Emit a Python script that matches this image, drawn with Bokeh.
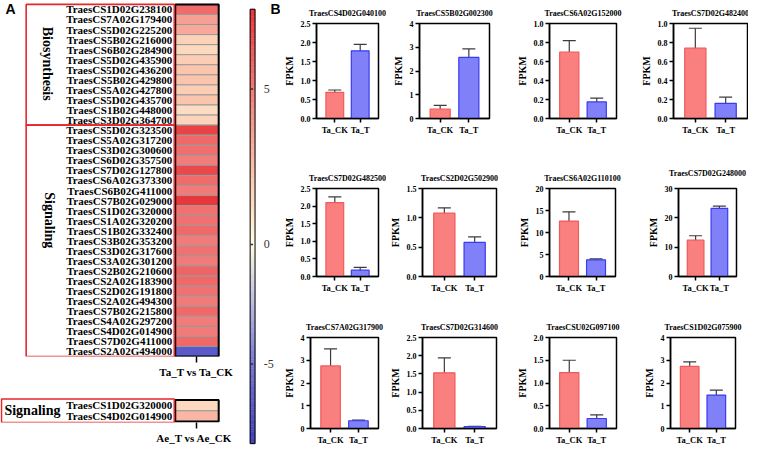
import math
from bokeh.plotting import figure
from bokeh.layouts import row, column
from bokeh.models import (Range1d, FactorRange, ColumnDataSource, LinearColorMapper,
                          FixedTicker, Whisker, TeeHead, NumeralTickFormatter)
from bokeh.transform import transform, factor_cmap
from bokeh.core.properties import value
from bokeh.embed import file_html
from bokeh.resources import INLINE

# ---------------- data ----------------
biosynthesis_genes = ["TraesCS1D02G238100", "TraesCS7A02G179400", "TraesCS5D02G225200",
                      "TraesCS5B02G216000", "TraesCS6B02G284900", "TraesCS5D02G435900",
                      "TraesCS5D02G436200", "TraesCS5B02G429800", "TraesCS5A02G427800",
                      "TraesCS5D02G435700", "TraesCS1B02G448000", "TraesCS3D02G364700"]
biosynthesis_log2fc = [5.5, 3.6, 3.3, 1.8, 1.5, 2.0, 2.3, 2.3, 2.0, 2.3, 1.3, 1.7]
signaling_genes = ["TraesCS5D02G323500", "TraesCS5A02G317200", "TraesCS3D02G300600",
                   "TraesCS6D02G357500", "TraesCS7D02G127800", "TraesCS6A02G373300",
                   "TraesCS6B02G411000", "TraesCS7B02G029000", "TraesCS1D02G320000",
                   "TraesCS1A02G320200", "TraesCS1B02G332400", "TraesCS3B02G353200",
                   "TraesCS3D02G317600", "TraesCS3A02G301200", "TraesCS2B02G210600",
                   "TraesCS2A02G183900", "TraesCS2D02G191800", "TraesCS2A02G494300",
                   "TraesCS7B02G215800", "TraesCS4A02G297200", "TraesCS4D02G014900",
                   "TraesCS7D02G411000", "TraesCS2A02G494000"]
signaling_log2fc = [7.0, 5.6, 5.4, 4.9, 6.8, 5.5, 5.0, 7.4, 5.3, 5.3, 5.6, 5.0, 5.3, 5.0,
                    5.8, 5.6, 5.3, 5.0, 5.6, 4.9, 5.0, 5.6, -6.6]
ta_comparison = "Ta_T vs Ta_CK"
ae_genes = ["TraesCS1D02G320000", "TraesCS4D02G014900"]
ae_log2fc = [1.5, 2.8]
ae_comparison = "Ae_T vs Ae_CK"
colorbar_ticks = [5, 0, -5]
colorbar_low, colorbar_high = -8.33, 7.56

bar_genes = ["TraesCS4D02G040100", "TraesCS5B02G002300", "TraesCS6A02G152000", "TraesCS7D02G482400",
             "TraesCS7D02G482500", "TraesCS2D02G502900", "TraesCS6A02G110100", "TraesCS7D02G248000",
             "TraesCS7A02G317900", "TraesCS7D02G314600", "TraesCSU02G097100", "TraesCS1D02G075900"]
groups = ["Ta_CK", "Ta_T"]
ck_mean = [0.69, 0.40, 0.70, 0.74, 2.10, 1.08, 12.6, 12.4, 2.75, 1.53, 1.23, 2.73]
ck_err = [0.06, 0.15, 0.12, 0.21, 0.16, 0.09, 2.1, 1.5, 0.75, 0.41, 0.27, 0.20]
t_mean = [1.78, 2.57, 0.175, 0.16, 0.18, 0.58, 3.8, 23.2, 0.34, 0.05, 0.22, 1.47]
t_err = [0.17, 0.36, 0.04, 0.065, 0.08, 0.095, 0.2, 0.8, 0.03, 0.01, 0.08, 0.22]
y_max = [2.5, 4, 1.0, 1.0, 2.5, 1.5, 20, 30, 4, 2.5, 2.0, 4]
y_step = [0.5, 1, 0.2, 0.2, 0.5, 0.5, 5, 10, 1, 0.5, 0.5, 1]

# ---------------- layout helpers (reference px -> page px) ----------------
SX = 748 / 758
SY = 447 / 460


def PX(r):
    return round(8 + (r - 4) * SX)


def PY(r):
    return round(8 + (r - 1) * SY)


SERIF_NAME = "Liberation Serif"
SERIF = value(SERIF_NAME)
SANS = value("Liberation Sans")

# ---------------- colour map ----------------
cm_vals = [colorbar_low, -5, -2, 0, 2, 5, colorbar_high]
cm_rgb = [(62, 62, 190), (118, 118, 214), (200, 200, 228), (255, 252, 225),
          (251, 205, 180), (242, 122, 120), (232, 52, 56)]


def interp_color(v):
    v = max(cm_vals[0], min(cm_vals[-1], v))
    for k in range(len(cm_vals) - 1):
        if cm_vals[k] <= v <= cm_vals[k + 1]:
            t = (v - cm_vals[k]) / (cm_vals[k + 1] - cm_vals[k])
            c = [round(a + (b - a) * t) for a, b in zip(cm_rgb[k], cm_rgb[k + 1])]
            return "#%02x%02x%02x" % tuple(c)
    return "#ffffff"


palette = [interp_color(colorbar_low + (colorbar_high - colorbar_low) * i / 255) for i in range(256)]
mapper = LinearColorMapper(palette=palette, low=colorbar_low, high=colorbar_high)

RED_BOX = "#e8262b"


def style_hm_axis(p, tick_x, label):
    ax = p.xaxis[0]
    ax.ticker = FixedTicker(ticks=[tick_x])
    ax.major_label_overrides = {tick_x: label}
    ax.axis_line_color = None
    ax.major_tick_line_color = "black"
    ax.major_tick_line_width = 1.5
    ax.major_tick_in = 0
    ax.major_tick_out = 6
    ax.minor_tick_line_color = None
    ax.major_label_standoff = 3
    ax.major_label_text_font = SERIF_NAME
    ax.major_label_text_font_style = "bold"
    ax.major_label_text_font_size = "11px"
    ax.major_label_text_color = "black"
    p.xgrid.visible = False
    p.ygrid.visible = False
    p.outline_line_color = None


CELL_L, CELL_R = 181, 225
CELL_X = (CELL_L + CELL_R) // 2
hm_w = PX(240) - PX(4)

# ---------------- heatmap 1 ----------------
hm1_h = PY(392) - PY(1)
hm1_frame_h = PY(367) - PY(1)
p1 = figure(width=hm_w, height=hm1_h, x_range=Range1d(4, 240), y_range=Range1d(367, 1),
            output_backend="svg", toolbar_location=None, y_axis_location=None,
            min_border=0, min_border_bottom=hm1_h - hm1_frame_h)
genes1 = biosynthesis_genes + signaling_genes
vals1 = biosynthesis_log2fc + signaling_log2fc
top1, bot1 = 5, 367
rh1 = (bot1 - top1) / len(genes1)
src1 = ColumnDataSource(dict(gene=genes1, v=vals1,
                             y=[top1 + (i + 0.5) * rh1 for i in range(len(genes1))]))
p1.rect(x=(CELL_L + CELL_R) / 2, y="y", width=CELL_R - CELL_L, height=rh1, source=src1,
        fill_color=transform("v", mapper), line_color="#9a9a9a", line_width=1)
p1.rect(x=(CELL_L + CELL_R) / 2, y=(top1 + bot1) / 2, width=CELL_R - CELL_L, height=bot1 - top1,
        fill_color=None, line_color="black", line_width=2)
p1.text(x=178, y="y", text="gene", source=src1, text_align="right", text_baseline="middle",
        text_font=SERIF, text_font_style="bold", text_font_size="11px", text_color="black")
nb = len(biosynthesis_genes)
yb = top1 + nb * rh1
p1.quad(left=[30, 30], right=[180, 180], top=[top1, yb], bottom=[yb, bot1],
        fill_color=None, line_color=RED_BOX, line_width=1.6)
p1.text(x=[52, 54], y=[66, 227], text=["Biosynthesis", "Signaling"], angle=-math.pi / 2,
        text_align="center", text_baseline="middle", text_font=SERIF,
        text_font_style="bold", text_font_size="14px", text_color="black")
p1.text(x=[9], y=[1.5], text=["A"], text_align="left", text_baseline="top",
        text_font=SANS, text_font_style="bold", text_font_size="14px", text_color="black")
style_hm_axis(p1, CELL_X, ta_comparison)

# ---------------- heatmap 2 ----------------
hm2_h = PY(461) - PY(392)
hm2_frame_h = PY(435) - PY(392)
p2 = figure(width=hm_w, height=hm2_h, x_range=Range1d(4, 240), y_range=Range1d(435, 392),
            output_backend="svg", toolbar_location=None, y_axis_location=None,
            min_border=0, min_border_bottom=hm2_h - hm2_frame_h)
top2, bot2 = 412, 434
rh2 = (bot2 - top2) / len(ae_genes)
src2 = ColumnDataSource(dict(gene=ae_genes, v=ae_log2fc,
                             y=[top2 + (i + 0.5) * rh2 for i in range(len(ae_genes))]))
p2.rect(x=(CELL_L + CELL_R) / 2, y="y", width=CELL_R - CELL_L, height=rh2, source=src2,
        fill_color=transform("v", mapper), line_color="#9a9a9a", line_width=1)
p2.rect(x=(CELL_L + CELL_R) / 2, y=(top2 + bot2) / 2, width=CELL_R - CELL_L, height=bot2 - top2,
        fill_color=None, line_color="black", line_width=2)
p2.text(x=178, y="y", text="gene", source=src2, text_align="right", text_baseline="middle",
        text_font=SERIF, text_font_style="bold", text_font_size="11px", text_color="black")
p2.quad(left=[5], right=[180], top=[411], bottom=[435], fill_color=None,
        line_color=RED_BOX, line_width=1.6)
p2.text(x=[8], y=[423], text=["Signaling"], text_align="left", text_baseline="middle",
        text_font=SERIF, text_font_style="bold", text_font_size="14px", text_color="black")
style_hm_axis(p2, CELL_X, ae_comparison)

# ---------------- colour bar ----------------
cb_w = PX(288) - PX(240)
cb = figure(width=cb_w, height=447, x_range=Range1d(240, 288), y_range=Range1d(461, 1),
            output_backend="svg", toolbar_location=None, x_axis_location=None,
            y_axis_location=None, min_border=0)
cb.xgrid.visible = False
cb.ygrid.visible = False
cb.outline_line_color = None
CB_TOP, CB_BOT, CB_ZERO = 10, 457, 252
px_pos = (CB_ZERO - CB_TOP) / colorbar_high
px_neg = (CB_BOT - CB_ZERO) / (-colorbar_low)


def val_to_y(v):
    return CB_ZERO - v * (px_pos if v >= 0 else px_neg)


def y_to_val(y):
    return (CB_ZERO - y) / (px_pos if y <= CB_ZERO else px_neg)


NS = 180
edges = [CB_TOP + (CB_BOT - CB_TOP) * k / NS for k in range(NS + 1)]
cb_src = ColumnDataSource(dict(top=edges[:-1], bottom=edges[1:],
                               v=[y_to_val((edges[k] + edges[k + 1]) / 2) for k in range(NS)]))
cb.quad(left=257, right=262, top="top", bottom="bottom", source=cb_src,
        fill_color=transform("v", mapper), line_color=transform("v", mapper), line_width=0.5)
cb.quad(left=[257], right=[262], top=[CB_TOP], bottom=[CB_BOT], fill_color=None,
        line_color="black", line_width=1)
tick_y = [val_to_y(v) for v in colorbar_ticks]
cb.segment(x0=257, x1=260, y0=tick_y, y1=tick_y, line_color="#333333", line_width=1.5)
cb.text(x=271, y=tick_y, text=[str(v) for v in colorbar_ticks], text_align="left",
        text_baseline="middle", text_font=SERIF, text_font_size="12px", text_color="#333333")
cb.text(x=[288], y=[2], text=["B"], text_align="right", text_baseline="top",
        text_font=SANS, text_font_style="bold", text_font_size="14px", text_color="black")

# ---------------- bar charts ----------------
col_bounds = [288, 395, 517, 642, 762]
row_bounds = [1, 150, 318, 461]
frames = [(320, 387, 23, 122), (429, 500, 23, 122), (560, 628, 23, 122), (686, 761, 23, 122),
          (320, 387, 185, 285), (429, 507, 185, 285), (560, 627, 185, 285), (691, 750, 194, 293),
          (316, 387, 348, 447), (429, 507, 348, 447), (560, 628, 348, 447), (683, 749, 348, 447)]
title_centers = [5, 167, 331]
BAR_FILL = ["#fa7f7f", "#8080f8"]
BAR_LINE = ["#f05a5a", "#3a3af0"]

bar_rows = []
for r in range(3):
    figs = []
    for c in range(4):
        i = r * 4 + c
        L, R, T, B = frames[i]
        bx0, bx1 = col_bounds[c], col_bounds[c + 1]
        by0, by1 = row_bounds[r], row_bounds[r + 1]
        p = figure(width=PX(bx1) - PX(bx0), height=PY(by1) - PY(by0),
                   x_range=FactorRange(factors=groups, range_padding=0.22),
                   y_range=Range1d(0, y_max[i]), output_backend="svg", toolbar_location=None,
                   min_border_left=PX(L) - PX(bx0), min_border_right=PX(bx1) - PX(R),
                   min_border_top=PY(T) - PY(by0), min_border_bottom=PY(by1) - PY(B))
        src = ColumnDataSource(dict(g=groups, m=[ck_mean[i], t_mean[i]],
                                    lo=[ck_mean[i] - ck_err[i], t_mean[i] - t_err[i]],
                                    hi=[ck_mean[i] + ck_err[i], t_mean[i] + t_err[i]]))
        p.vbar(x="g", top="m", bottom=0, width=0.7, source=src,
               fill_color=factor_cmap("g", palette=BAR_FILL, factors=groups),
               line_color=factor_cmap("g", palette=BAR_LINE, factors=groups), line_width=1.2)
        wcol = "#3c3c3c"
        p.add_layout(Whisker(base="g", lower="lo", upper="hi", source=src, line_color=wcol,
                             line_width=1.2,
                             upper_head=TeeHead(size=13, line_color=wcol, line_width=1.2),
                             lower_head=TeeHead(size=13, line_color=wcol, line_width=1.2)))
        n = round(y_max[i] / y_step[i])
        p.yaxis.ticker = FixedTicker(ticks=[round(k * y_step[i], 3) for k in range(n + 1)])
        p.yaxis.formatter = NumeralTickFormatter(format="0.0" if y_step[i] < 1 else "0")
        p.xgrid.visible = False
        p.ygrid.visible = False
        p.outline_line_color = "black"
        p.outline_line_width = 1.5
        for ax in p.axis:
            ax.axis_line_color = "black"
            ax.axis_line_width = 1.5
            ax.major_tick_line_color = "black"
            ax.major_tick_line_width = 1.5
            ax.major_tick_in = 0
            ax.major_tick_out = 4
            ax.minor_tick_line_color = None
            ax.major_label_standoff = 2
            ax.major_label_text_font = SERIF_NAME
            ax.major_label_text_font_style = "bold"
            ax.major_label_text_color = "black"
        p.yaxis.major_label_text_font_size = "8px"
        p.xaxis.major_label_text_font_size = "8.5px"
        p.yaxis.axis_label = "FPKM"
        p.yaxis.axis_label_text_font = SERIF_NAME
        p.yaxis.axis_label_text_font_style = "bold"
        p.yaxis.axis_label_text_font_size = "10px"
        p.yaxis.axis_label_standoff = 3
        p.yaxis.axis_label_text_color = "black"
        p.title.text = bar_genes[i]
        p.title.align = "center"
        p.title.text_font = SERIF_NAME
        p.title.text_font_style = "bold"
        p.title.text_font_size = "8px"
        p.title.text_color = "black"
        p.title.standoff = max(0, round((T - title_centers[r]) * SY - 5))
        figs.append(p)
    bar_rows.append(row(*figs))

layout = row(column(p1, p2), cb, column(*bar_rows))

open("out.html", "w").write(file_html(layout, INLINE))
